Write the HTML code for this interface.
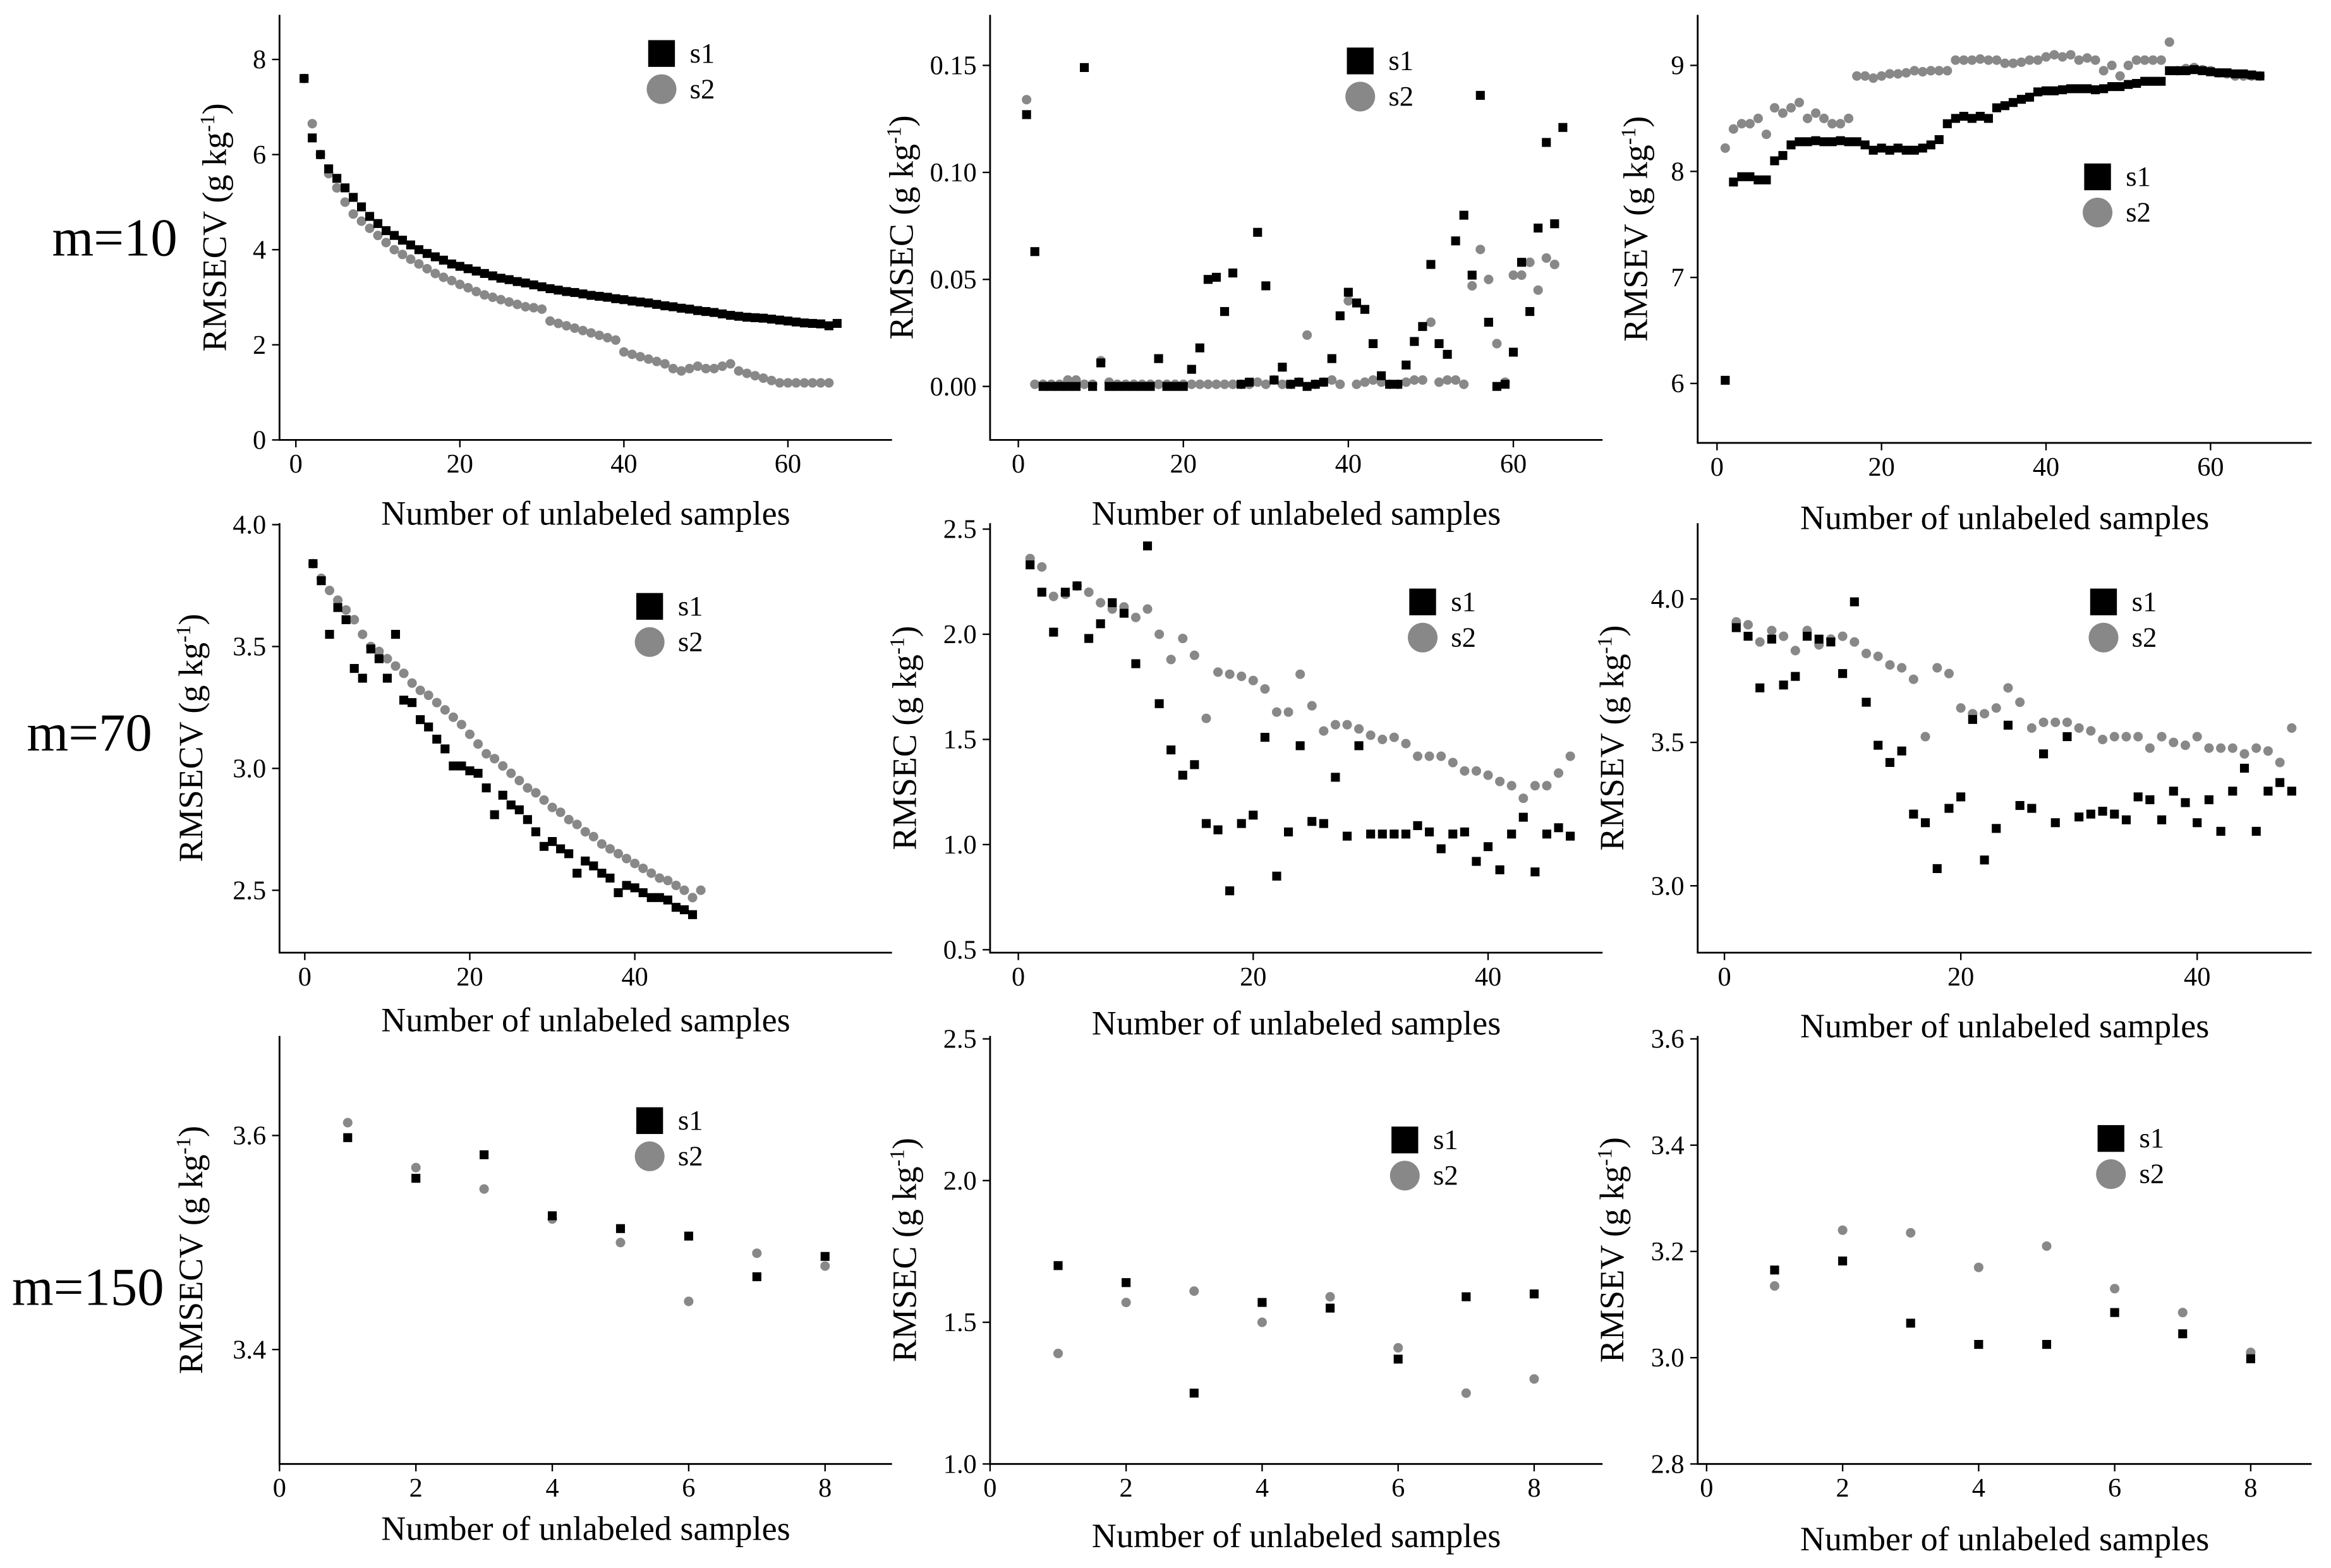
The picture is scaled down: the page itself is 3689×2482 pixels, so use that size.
<!DOCTYPE html>
<html><head><meta charset="utf-8">
<style>
html,body{margin:0;padding:0;background:#fff;}
svg{display:block;font-family:"Liberation Serif",serif;}
</style></head>
<body>
<svg id="chart" width="3689" height="2482" viewBox="0 0 1568 1055" xmlns="http://www.w3.org/2000/svg">
<rect x="0" y="0" width="1568" height="1055" fill="#fff"/>
<text x="35" y="172" font-size="36">m=10</text>
<text x="18" y="505" font-size="36">m=70</text>
<text x="8" y="878" font-size="36">m=150</text>
</svg>
<script>
// ---- data ----
const aS1=[7.6,6.35,6.0,5.7,5.5,5.3,5.1,4.9,4.7,4.55,4.4,4.3,4.2,4.1,4.0,3.92,3.85,3.78,3.7,3.65,3.6,3.55,3.5,3.45,3.4,3.37,3.33,3.3,3.26,3.22,3.18,3.15,3.12,3.1,3.07,3.04,3.02,3.0,2.97,2.95,2.92,2.9,2.88,2.85,2.82,2.8,2.77,2.75,2.72,2.7,2.68,2.65,2.62,2.6,2.58,2.57,2.56,2.54,2.52,2.5,2.48,2.46,2.45,2.44,2.4,2.45];
const aS2=[7.6,6.65,6.0,5.6,5.3,5.0,4.75,4.6,4.45,4.3,4.15,4.0,3.9,3.8,3.7,3.6,3.5,3.42,3.35,3.27,3.2,3.12,3.05,3.0,2.95,2.9,2.85,2.8,2.78,2.75,2.5,2.45,2.4,2.35,2.3,2.25,2.2,2.15,2.1,1.85,1.8,1.75,1.7,1.65,1.6,1.5,1.45,1.5,1.55,1.5,1.5,1.55,1.6,1.45,1.4,1.35,1.3,1.25,1.2,1.2,1.2,1.2,1.2,1.2,1.2];
const bS1=[0.127,0.063,0,0,0,0,0,0.149,0,0.011,0,0,0,0,0,0,0.013,0,0,0,0.008,0.018,0.05,0.051,0.035,0.053,0.001,0.002,0.072,0.047,0.003,0.009,0.001,0.002,0,0.001,0.002,0.013,0.033,0.044,0.039,0.036,0.02,0.005,0.001,0.001,0.01,0.021,0.028,0.057,0.02,0.015,0.068,0.08,0.052,0.136,0.03,0,0.001,0.016,0.058,0.035,0.074,0.114,0.076,0.121];
const bS2=[0.134,0.001,0.001,0.001,0.001,0.003,0.003,0.001,0.001,0.012,0.002,0.001,0.001,0.001,0.001,0.001,0.001,0.001,0.001,0.001,0.001,0.001,0.001,0.001,0.001,0.001,0.001,0.001,0.002,0.001,0.003,0.001,0.001,0.002,0.024,0.001,0.002,0.003,0.001,0.04,0.001,0.002,0.003,0.002,0.001,0.001,0.002,0.003,0.003,0.03,0.002,0.003,0.003,0.001,0.047,0.064,0.05,0.02,0.002,0.052,0.052,0.058,0.045,0.06,0.057];
const cS1=[6.03,7.9,7.95,7.95,7.92,7.92,8.1,8.15,8.25,8.28,8.28,8.29,8.28,8.28,8.29,8.28,8.28,8.25,8.2,8.22,8.2,8.22,8.2,8.2,8.22,8.25,8.3,8.45,8.5,8.52,8.5,8.52,8.5,8.6,8.62,8.65,8.68,8.7,8.75,8.76,8.76,8.77,8.78,8.78,8.78,8.77,8.78,8.8,8.8,8.82,8.83,8.85,8.85,8.85,8.95,8.95,8.95,8.96,8.95,8.94,8.93,8.93,8.92,8.92,8.91,8.9];
const cS2=[8.22,8.4,8.45,8.45,8.5,8.35,8.6,8.55,8.6,8.65,8.5,8.55,8.5,8.45,8.45,8.5,8.9,8.9,8.88,8.9,8.92,8.92,8.93,8.95,8.94,8.95,8.95,8.95,9.05,9.05,9.05,9.06,9.05,9.05,9.02,9.02,9.03,9.05,9.05,9.08,9.1,9.08,9.1,9.05,9.07,9.05,8.95,9.0,8.9,9.0,9.05,9.05,9.05,9.05,9.22,8.95,8.97,8.98,8.96,8.95,8.93,8.92,8.9,8.9,8.9,8.9];
const dS1=[3.84,3.77,3.55,3.66,3.61,3.41,3.37,3.49,3.45,3.37,3.55,3.28,3.27,3.2,3.17,3.12,3.08,3.01,3.01,2.99,2.98,2.92,2.81,2.89,2.85,2.83,2.79,2.74,2.68,2.7,2.67,2.65,2.57,2.62,2.6,2.57,2.55,2.49,2.52,2.51,2.49,2.47,2.47,2.46,2.43,2.42,2.4];
const dS2=[3.84,3.78,3.73,3.69,3.65,3.61,3.55,3.5,3.48,3.45,3.42,3.39,3.35,3.32,3.3,3.27,3.24,3.21,3.18,3.14,3.1,3.06,3.04,3.01,2.98,2.95,2.92,2.9,2.87,2.84,2.82,2.79,2.77,2.74,2.72,2.69,2.67,2.65,2.63,2.61,2.59,2.57,2.55,2.54,2.52,2.5,2.47,2.5];
const eS1=[2.33,2.2,2.01,2.2,2.23,1.98,2.05,2.15,2.1,1.86,2.42,1.67,1.45,1.33,1.38,1.1,1.07,0.78,1.1,1.14,1.51,0.85,1.06,1.47,1.11,1.1,1.32,1.04,1.47,1.05,1.05,1.05,1.05,1.09,1.06,0.98,1.05,1.06,0.92,0.99,0.88,1.05,1.13,0.87,1.05,1.08,1.04];
const eS2=[2.36,2.32,2.18,2.19,2.23,2.2,2.15,2.12,2.13,2.08,2.12,2.0,1.88,1.98,1.9,1.6,1.82,1.81,1.8,1.78,1.74,1.63,1.63,1.81,1.66,1.54,1.57,1.57,1.55,1.52,1.5,1.51,1.48,1.42,1.42,1.42,1.39,1.35,1.35,1.33,1.3,1.28,1.22,1.28,1.28,1.34,1.42];
const fS1=[3.9,3.87,3.69,3.86,3.7,3.73,3.87,3.86,3.85,3.74,3.99,3.64,3.49,3.43,3.47,3.25,3.22,3.06,3.27,3.31,3.58,3.09,3.2,3.56,3.28,3.27,3.46,3.22,3.52,3.24,3.25,3.26,3.25,3.23,3.31,3.3,3.23,3.33,3.29,3.22,3.3,3.19,3.33,3.41,3.19,3.33,3.36,3.33];
const fS2=[3.92,3.91,3.85,3.89,3.87,3.82,3.89,3.84,3.86,3.87,3.85,3.81,3.8,3.77,3.76,3.72,3.52,3.76,3.74,3.62,3.6,3.6,3.62,3.69,3.64,3.55,3.57,3.57,3.57,3.55,3.54,3.51,3.52,3.52,3.52,3.48,3.52,3.5,3.49,3.52,3.48,3.48,3.48,3.46,3.48,3.47,3.43,3.55];
const gS1=[3.598,3.56,3.582,3.525,3.513,3.506,3.468,3.487];
const gS2=[3.612,3.57,3.55,3.522,3.5,3.445,3.49,3.478];
const hS1=[1.7,1.64,1.25,1.57,1.55,1.37,1.59,1.6];
const hS2=[1.39,1.57,1.61,1.5,1.59,1.41,1.25,1.3];
const iS1=[3.165,3.182,3.065,3.025,3.025,3.085,3.045,2.998];
const iS2=[3.135,3.24,3.235,3.17,3.21,3.13,3.085,3.01];
const xTicksLong=[0,20,40,60];
const xTicksMid=[0,20,40];
const xTicksShort=[0,2,4,6,8];
const yTicksA=[0,2,4,6,8];
const yTicksB=[0,0.05,0.10,0.15];
const yTicksC=[6,7,8,9];
const yTicksD=[2.5,3.0,3.5,4.0];
const yTicksE=[0.5,1.0,1.5,2.0,2.5];
const yTicksF=[3.0,3.5,4.0];
const yTicksG=[3.4,3.6];
const yTicksH=[1.0,1.5,2.0,2.5];
const yTicksI=[2.8,3.0,3.2,3.4,3.6];

// ---- layout ----
const NS="http://www.w3.org/2000/svg";
const svg=document.getElementById('chart');
function mk(tag,attrs,parent){const e=document.createElementNS(NS,tag);for(const k in attrs)e.setAttribute(k,attrs[k]);(parent||svg).appendChild(e);return e;}

const panels=[
 {id:'a',s1:aS1,s2:aS2,xt:xTicksLong,yt:yTicksA,dec:0,L:188,R:600,T:10,B:296,x0:0,px0:199,x1:60,px1:530,y0:0,py0:296,y1:8,py1:40,yl:'RMSECV',ylx:152,xly:353,lg:[445,36]},
 {id:'b',s1:bS1,s2:bS2,xt:xTicksLong,yt:yTicksB,dec:2,L:666,R:1078,T:10,B:296,x0:0,px0:685,x1:60,px1:1018,y0:0,py0:260,y1:0.15,py1:44,yl:'RMSEC',ylx:614,xly:353,lg:[915,41]},
 {id:'c',s1:cS1,s2:cS2,xt:xTicksLong,yt:yTicksC,dec:0,L:1142,R:1555,T:10,B:298,x0:0,px0:1155,x1:60,px1:1487,y0:6,py0:258,y1:9,py1:44,yl:'RMSEV',ylx:1108,xly:356,lg:[1411,119]},
 {id:'d',s1:dS1,s2:dS2,xt:xTicksMid,yt:yTicksD,dec:1,L:188,R:600,T:352,B:641,x0:0,px0:205,x1:40,px1:427,y0:2.5,py0:599,y1:4.0,py1:353,yl:'RMSECV',ylx:136,xly:694,lg:[437,408]},
 {id:'e',s1:eS1,s2:eS2,xt:xTicksMid,yt:yTicksE,dec:1,L:666,R:1078,T:352,B:641,x0:0,px0:685,x1:40,px1:1001,y0:0.5,py0:639,y1:2.5,py1:356,yl:'RMSEC',ylx:616,xly:696,lg:[957,405]},
 {id:'f',s1:fS1,s2:fS2,xt:xTicksMid,yt:yTicksF,dec:1,L:1142,R:1555,T:352,B:641,x0:0,px0:1160,x1:40,px1:1478,y0:3.0,py0:596,y1:4.0,py1:403,yl:'RMSEV',ylx:1092,xly:698,lg:[1415,405]},
 {id:'g',s1:gS1,s2:gS2,xt:xTicksShort,yt:yTicksG,dec:1,L:188,R:600,T:697,B:985,x0:0,px0:188,x1:8,px1:555,y0:3.4,py0:908,y1:3.6,py1:764,yl:'RMSECV',ylx:136,xly:1036,lg:[437,754]},
 {id:'h',s1:hS1,s2:hS2,xt:xTicksShort,yt:yTicksH,dec:1,L:666,R:1078,T:697,B:985,x0:0,px0:666,x1:8,px1:1032,y0:1.0,py0:985,y1:2.5,py1:699,yl:'RMSEC',ylx:616,xly:1041,lg:[945,767]},
 {id:'i',s1:iS1,s2:iS2,xt:xTicksShort,yt:yTicksI,dec:1,L:1142,R:1555,T:697,B:985,x0:0,px0:1148,x1:8,px1:1514,y0:2.8,py0:985,y1:3.6,py1:699,yl:'RMSEV',ylx:1092,xly:1043,lg:[1420,766]}
];

panels.forEach(p=>{
 const g=mk('g',{});
 
 
 const xs=v=>p.px0+(v-p.x0)*(p.px1-p.px0)/(p.x1-p.x0);
 const ys=v=>p.py0+(v-p.y0)*(p.py1-p.py0)/(p.y1-p.y0);
 const ax=mk('path',{d:`M${p.L},${p.T}V${p.B}H${p.R}`,fill:'none',stroke:'#000','stroke-width':1.2},g);
 
 
 p.xt.forEach(t=>{
  const x=xs(t);
  mk('line',{x1:x,y1:p.B,x2:x,y2:p.B+5,stroke:'#000','stroke-width':1},g);
  const tx=mk('text',{x:x,y:p.B+22,'font-size':18,'text-anchor':'middle'},g);
  tx.textContent=String(t);
  
  
 });
 p.yt.forEach(t=>{
  const y=ys(t);
  mk('line',{x1:p.L-5,y1:y,x2:p.L,y2:y,stroke:'#000','stroke-width':1},g);
  const tx=mk('text',{x:p.L-9,y:y+6,'font-size':18,'text-anchor':'end'},g);
  tx.textContent=t.toFixed(p.dec);
  
  
 });
 const xt=mk('text',{x:(p.L+p.R)/2,y:p.xly,'font-size':23,'text-anchor':'middle'},g);
 xt.textContent='Number of unlabeled samples';
 
 
 const cy=(p.T+p.B)/2;
 const yt=mk('text',{x:p.ylx,y:cy,'font-size':23,'text-anchor':'middle',transform:`rotate(-90 ${p.ylx} ${cy})`},g);
 
 
 yt.appendChild(document.createTextNode(p.yl+' (g kg'));
 const sup=mk('tspan',{'font-size':14,dy:-8},yt);sup.textContent='-1';
 const cl=mk('tspan',{dy:8},yt);cl.textContent=')';
 p.s2.forEach((v,i)=>{
  const c=mk('circle',{cx:xs(i+1),cy:ys(v),r:3.2,fill:'#888'},g);
  
  
 });
 p.s1.forEach((v,i)=>{
  const r=mk('rect',{x:xs(i+1)-3,y:ys(v)-3,width:6,height:6,fill:'#000'},g);
  
  
 });
 const [lx,ly]=p.lg;
 const lg=mk('g',{},g);
 
 
 mk('rect',{x:lx-9,y:ly-9,width:18,height:18,fill:'#000'},lg);
 const t1=mk('text',{x:lx+19,y:ly+6,'font-size':19},lg);t1.textContent='s1';
 
 
 mk('circle',{cx:lx,cy:ly+24,r:10,fill:'#888'},lg);
 const t2=mk('text',{x:lx+19,y:ly+30,'font-size':19},lg);t2.textContent='s2';
 
 
});
</script>
</body></html>
